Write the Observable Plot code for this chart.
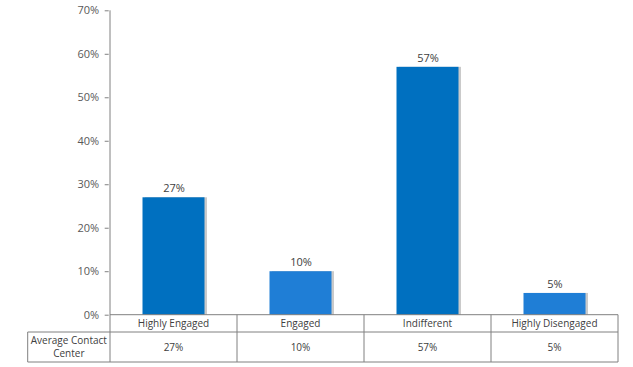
<!DOCTYPE html>
<html><head><meta charset="utf-8">
<script src="https://cdn.jsdelivr.net/npm/d3@7"></script>
<script src="https://cdn.jsdelivr.net/npm/@observablehq/plot@0.6"></script>
<style>body{margin:0;background:#fff} svg{display:block}</style>
</head><body><div id="chart"></div>
<script>
const categories = ["Highly Engaged", "Engaged", "Indifferent", "Highly Disengaged"];
const values = [0.27, 0.10, 0.57, 0.05];
const seriesLabel = ["Average Contact", "Center"];
const yTicks = [0, 0.1, 0.2, 0.3, 0.4, 0.5, 0.6, 0.7];

const data = categories.map((c, i) => ({category: c, value: values[i], shade: i % 2}));
const fmt = d3.format(".0%");
const FONT = "'Open Sans', sans-serif";
const FS = 10;
const lineColor = "#808080";
const textColor = "#404040";

const table = (index, scales, vals, dims) => {
  const x = scales.x, y = scales.y;
  const step = x(categories[1]) - x(categories[0]);
  const x0 = x(categories[0]);
  const xEnd = x(categories[categories.length - 1]) + step;
  const y0 = y(0);
  const r1 = y0 + 17.3, r2 = r1 + 30;
  const left = 27.7;
  const g = d3.create("svg:g").attr("font-family", FONT).attr("font-size", FS).attr("fill", textColor);
  const line = (a, b, c, d) => g.append("line").attr("x1", a).attr("y1", b).attr("x2", c).attr("y2", d)
    .attr("stroke", lineColor).attr("stroke-width", 1);
  line(x0, y(0.7), x0, r2);
  line(x0, y0, xEnd, y0);
  line(left, r1, xEnd, r1);
  line(left, r2, xEnd, r2);
  line(left, r1, left, r2);
  categories.forEach((c) => line(x(c) + step, y0, x(c) + step, r2));
  categories.forEach((c, i) => {
    const cx = x(c) + step / 2;
    g.append("text").attr("x", cx).attr("y", (y0 + r1) / 2).attr("dy", "0.35em").attr("text-anchor", "middle").text(c);
    g.append("text").attr("x", cx).attr("y", (r1 + r2) / 2).attr("dy", "0.35em").attr("text-anchor", "middle").text(fmt(values[i]));
  });
  const lx = (left + x0) / 2, ly = (r1 + r2) / 2;
  seriesLabel.forEach((t, j) => {
    g.append("text").attr("x", lx).attr("y", ly + (j - (seriesLabel.length - 1) / 2) * 13.5)
      .attr("dy", "0.35em").attr("text-anchor", "middle").text(t);
  });
  return g.node();
};

const chart = Plot.plot({
  width: 633,
  height: 367,
  marginLeft: 108.7,
  marginRight: 14.3,
  marginTop: 10.3,
  marginBottom: 52.3,
  style: {fontFamily: FONT, fontSize: FS + "px", background: "#fff"},
  x: {domain: categories, padding: 0, axis: null},
  y: {domain: [0, 0.7], axis: null},
  color: {domain: [0, 1], range: ["#0070C0", "#1F7ED6"]},
  marks: [
    Plot.axisY({ticks: yTicks, tickFormat: fmt, tickSize: 4, tickPadding: 6, fontSize: FS + 1, color: "#595959", stroke: lineColor, label: null}),
    Plot.barY(data, {x: "category", y: "value", insetLeft: 32.5, insetRight: 32.5, dx: 2.5, fill: "#8a8a8a", fillOpacity: 0.45}),
    Plot.barY(data, {x: "category", y: "value", insetLeft: 32.5, insetRight: 32.5, fill: "shade"}),
    Plot.text(data, {x: "category", y: "value", text: d => fmt(d.value), dy: -9, fill: textColor, fontSize: FS + 1}),
    table
  ]
});
document.getElementById("chart").append(chart);
</script>
</body></html>
